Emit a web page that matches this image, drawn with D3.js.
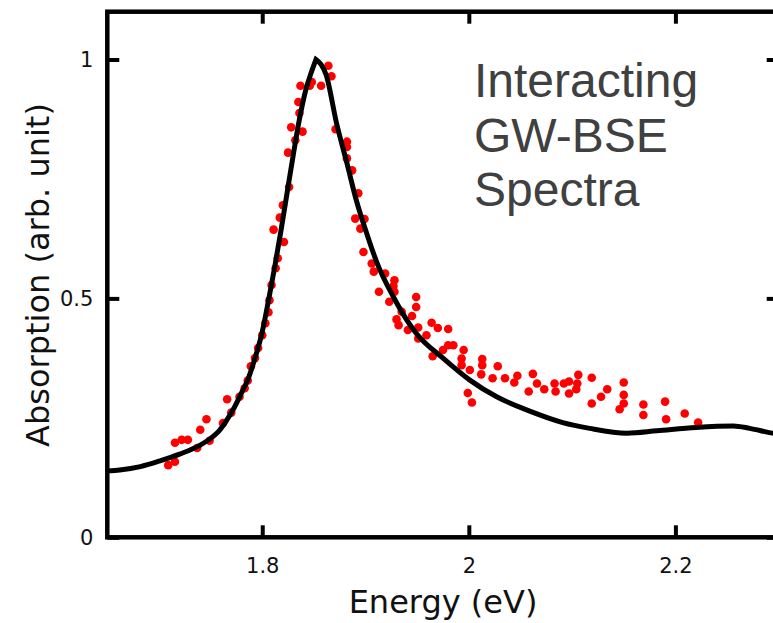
<!DOCTYPE html>
<html>
<head>
<meta charset="utf-8">
<script src="https://cdn.jsdelivr.net/npm/d3@7"></script>
<style>
  body { margin: 0; background: #fff; }
</style>
</head>
<body>
<svg></svg>
<script>
const svgWidth = 773
const svgHeight = 623
const plot = { left: 107.3, right: 778.7, top: 11.7, bottom: 537.3 }

// GW-BSE spectrum (black line)
const curveEnergy = [1.650, 1.662, 1.682, 1.701, 1.720, 1.740, 1.750, 1.758, 1.765, 1.772, 1.779, 1.786, 1.793,
    1.800, 1.806, 1.812, 1.818, 1.824, 1.830, 1.836, 1.842, 1.847, 1.852,
    1.862, 1.872, 1.882, 1.891, 1.901, 1.911, 1.927, 1.949, 1.975, 2.001, 2.027, 2.059,
    2.091, 2.117, 2.153, 2.182, 2.220, 2.256, 2.272, 2.294, 2.300]
const curveAbsorption = [0.139, 0.141, 0.148, 0.160, 0.174, 0.193, 0.207, 0.222, 0.243, 0.268, 0.298, 0.330, 0.375,
    0.430, 0.495, 0.565, 0.640, 0.720, 0.800, 0.875, 0.935, 0.970, 1.000,
    0.967, 0.866, 0.783, 0.706, 0.637, 0.575, 0.503, 0.427, 0.375, 0.329, 0.294, 0.264,
    0.240, 0.228, 0.218, 0.223, 0.230, 0.233, 0.228, 0.218, 0.216]

// experimental points (red dots)
const dotEnergy = [1.709, 1.7155, 1.7155, 1.722, 1.728, 1.737, 1.740, 1.746, 1.749, 1.762, 1.766, 1.770,
    1.778, 1.783, 1.786, 1.789, 1.793, 1.796, 1.800, 1.803, 1.806, 1.807, 1.809, 1.813, 1.815, 1.821,
    1.811, 1.817, 1.820, 1.826, 1.825, 1.832, 1.828, 1.839, 1.836, 1.835, 1.837, 1.846, 1.848, 1.857,
    1.864, 1.867, 1.871, 1.882, 1.882, 1.882, 1.887, 1.893, 1.890, 1.899, 1.895,
    1.898, 1.906, 1.908, 1.919, 1.928, 1.927, 1.913, 1.928, 1.923, 1.935, 1.930, 1.932, 1.945, 1.949,
    1.949, 1.941, 1.951, 1.959, 1.951, 1.964, 1.970, 1.980, 1.975, 1.980, 1.985, 1.995, 1.993, 1.993,
    2.001, 1.965, 1.999, 2.003, 2.013, 2.013, 2.012, 2.023, 2.028, 2.035, 2.044, 2.047, 2.058, 2.062,
    2.066, 2.073, 2.084, 2.083, 2.092, 2.097, 2.097, 2.106, 2.105, 2.104, 2.119, 2.119, 2.128, 2.134,
    2.150, 2.150, 2.150, 2.146, 2.169, 2.169, 2.190, 2.191, 2.209, 2.222]
const dotAbsorption = [0.151, 0.158, 0.198, 0.204, 0.204, 0.187, 0.225, 0.247, 0.202, 0.239, 0.289, 0.261,
    0.294, 0.312, 0.328, 0.358, 0.375, 0.396, 0.423, 0.448, 0.471, 0.496, 0.528, 0.563, 0.584, 0.618,
    0.644, 0.669, 0.695, 0.733, 0.805, 0.831, 0.858, 0.849, 0.888, 0.911, 0.945, 0.945, 0.953, 0.945,
    0.987, 0.965, 0.854, 0.828, 0.817, 0.793, 0.768, 0.720, 0.667, 0.666, 0.646,
    0.597, 0.573, 0.556, 0.552, 0.538, 0.526, 0.514, 0.514, 0.493, 0.472, 0.456, 0.444, 0.463, 0.503,
    0.482, 0.434, 0.439, 0.423, 0.416, 0.449, 0.438, 0.436, 0.392, 0.402, 0.402, 0.392, 0.374, 0.360,
    0.350, 0.379, 0.302, 0.282, 0.373, 0.360, 0.341, 0.333, 0.358, 0.333, 0.324, 0.338, 0.305, 0.342,
    0.322, 0.310, 0.305, 0.322, 0.322, 0.301, 0.326, 0.340, 0.322, 0.310, 0.334, 0.280, 0.294, 0.310,
    0.324, 0.298, 0.280, 0.268, 0.278, 0.256, 0.284, 0.247, 0.259, 0.240]

const xTicks = [1.8, 2, 2.2]
const yTicks = [0, 0.5, 1]
const xDomain = [1.65, 2.3]
const yDomain = [0, 1.1]
const labelLines = ["Interacting", "GW-BSE", "Spectra"]

const svg = d3.select("svg")
    .attr("width", svgWidth)
    .attr("height", svgHeight)

const xScale = d3.scaleLinear().domain(xDomain).range([plot.left, plot.right])
const yScale = d3.scaleLinear().domain(yDomain).range([plot.bottom, plot.top])

const tickFont = "DejaVu Sans, sans-serif"

// curve, split at the peak so the top stays sharp
const curve = curveEnergy.map((e, i) => ({ e: e, a: curveAbsorption[i] }))
const peak = d3.maxIndex(curve, (d) => d.a)
const line = d3.line()
    .x((d) => xScale(d.e))
    .y((d) => yScale(d.a))
    .curve(d3.curveMonotoneX)

const dots = dotEnergy.map((e, i) => ({ e: e, a: dotAbsorption[i] }))

svg.append("g")
    .selectAll("circle")
    .data(dots)
    .join("circle")
    .attr("cx", (d) => xScale(d.e))
    .attr("cy", (d) => yScale(d.a))
    .attr("r", 4.3)
    .attr("fill", "#ff0000")

const left = curve.slice(0, peak + 1)
const right = curve.slice(peak)
svg.append("path")
    .attr("d", line(left) + line(right).replace(/^M/, "L"))
    .attr("fill", "none")
    .attr("stroke", "#000")
    .attr("stroke-width", 5)
    .attr("stroke-linejoin", "miter")

// axes with inward ticks
const bottomAxis = svg.append("g")
    .attr("transform", `translate(0,${plot.bottom})`)
    .call(d3.axisBottom(xScale).tickValues(xTicks).tickSize(-12).tickSizeOuter(0).tickPadding(21)
        .tickFormat(d3.format("")))
const topAxis = svg.append("g")
    .attr("transform", `translate(0,${plot.top})`)
    .call(d3.axisTop(xScale).tickValues(xTicks).tickSize(-12).tickSizeOuter(0).tickFormat(""))
const leftAxis = svg.append("g")
    .attr("transform", `translate(${plot.left},0)`)
    .call(d3.axisLeft(yScale).tickValues(yTicks).tickSize(-12).tickSizeOuter(0).tickPadding(14)
        .tickFormat(d3.format("")))
const rightAxis = svg.append("g")
    .attr("transform", `translate(${plot.right},0)`)
    .call(d3.axisRight(yScale).tickValues(yTicks).tickSize(-12).tickSizeOuter(0).tickFormat(""))

;[bottomAxis, topAxis, leftAxis, rightAxis].forEach((g) => {
    g.select(".domain").remove()
    g.selectAll(".tick line").attr("stroke", "#000").attr("stroke-width", 4)
    g.selectAll("text").attr("font-family", tickFont).attr("font-size", 21).attr("fill", "#111")
})

svg.append("rect")
    .attr("x", plot.left)
    .attr("y", plot.top)
    .attr("width", plot.right - plot.left)
    .attr("height", plot.bottom - plot.top)
    .attr("fill", "none")
    .attr("stroke", "#000")
    .attr("stroke-width", 4.5)

// axis titles
svg.append("text")
    .text("Energy (eV)")
    .attr("x", 443)
    .attr("y", 613)
    .attr("text-anchor", "middle")
    .attr("font-family", tickFont)
    .attr("font-size", 32)
    .attr("fill", "#111")

svg.append("text")
    .text("Absorption (arb. unit)")
    .attr("transform", "translate(49,275) rotate(-90)")
    .attr("text-anchor", "middle")
    .attr("font-family", tickFont)
    .attr("font-size", 32)
    .attr("fill", "#111")

// annotation
svg.append("g")
    .selectAll("text")
    .data(labelLines)
    .join("text")
    .text((d) => d)
    .attr("x", 474)
    .attr("y", (d, i) => 97 + i * 54.5)
    .attr("font-family", "Liberation Sans, Arial, sans-serif")
    .attr("font-size", 48)
    .attr("fill", "#404040")
</script>
</body>
</html>
